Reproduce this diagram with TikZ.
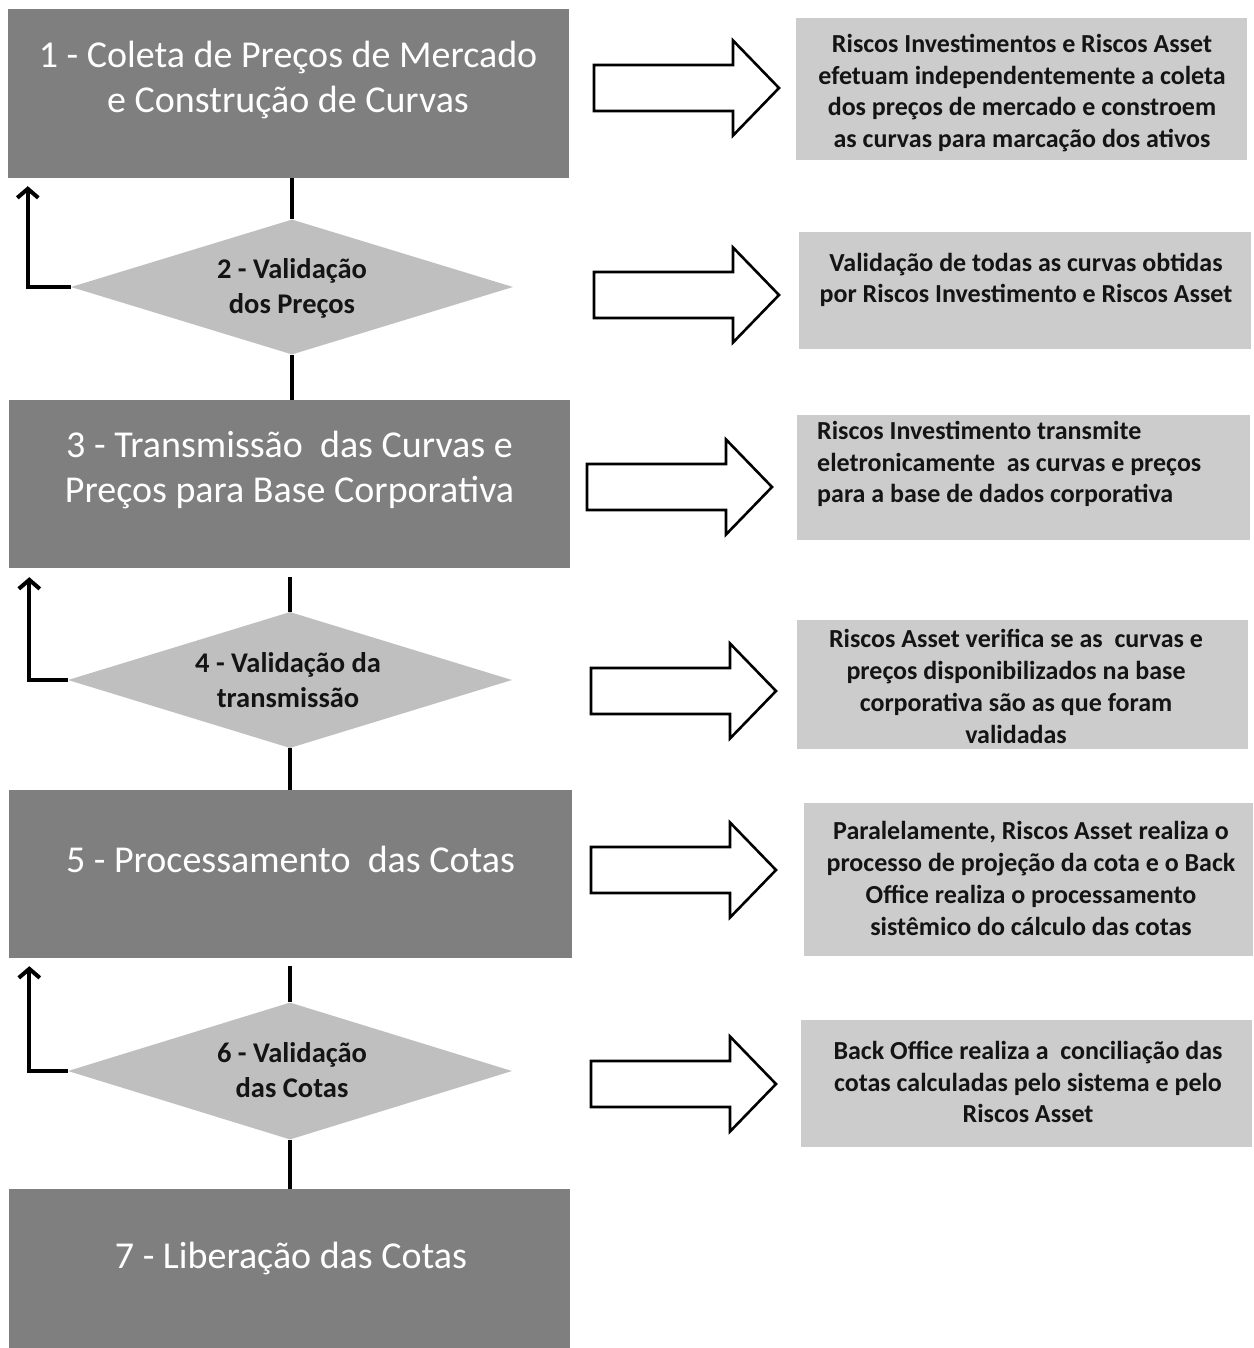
\documentclass[tikz,border=0pt]{standalone}
\usepackage{fontspec}
\setmainfont{Carlito}
\usetikzlibrary{shapes.geometric,arrows.meta}
\definecolor{boxgray}{HTML}{7F7F7F}
\definecolor{diagray}{HTML}{BFBFBF}
\definecolor{descgray}{HTML}{CCCCCC}
\definecolor{darktext}{HTML}{141414}
\tikzset{
  mainbox/.style={rectangle, fill=boxgray, inner sep=0, minimum width=561, minimum height=169},
  maintext/.style={text=white, align=center, font=\fontsize{38}{45}\selectfont, inner sep=0},
  decision/.style={diamond, fill=diagray, inner sep=0, minimum width=442, minimum height=135},
  dectext/.style={text=darktext, align=center, font=\bfseries\fontsize{28.5}{35}\selectfont, inner sep=0},
  descbox/.style={rectangle, fill=descgray, inner sep=0},
  desctext/.style={text=darktext, align=center, font=\bfseries\fontsize{26}{31.8}\selectfont, inner sep=0},
  conn/.style={draw=black, line width=4},
  feedback/.style={draw=black, line width=4, -{Straight Barb[length=9pt,width=21pt,line width=4pt]}},
  blockarrow/.pic={\draw[line width=2.6, fill=white] (0,-23) -- (139,-23) -- (139,-47.5) -- (185,0) -- (139,47.5) -- (139,23) -- (0,23) -- cycle;}
}
\begin{document}
\begin{tikzpicture}[x=1pt,y=-1pt]
\useasboundingbox[fill=white] (0,0) rectangle (1253,1348);

% main boxes
\node[mainbox, minimum height=169] (b1) at (288,93.5) {};
\node[maintext] (t1) at (288,80) {1 - Coleta de Preços de Mercado\\e Construção de Curvas};
\node[mainbox, minimum height=168] (b3) at (289.5,484) {};
\node[maintext] (t3) at (289.5,470) {3 - Transmissão\ \ das Curvas e\\Preços para Base Corporativa};
\node[mainbox, minimum height=168, minimum width=563] (b5) at (290.5,874) {};
\node[maintext] (t5) at (290.5,859) {5 - Processamento\ \ das Cotas};
\node[mainbox, minimum height=165] (b7) at (289.5,1271.5) {};
\node[maintext] (t7) at (291,1258) {7 - Liberação das Cotas};

% decisions
\node[decision] (d2) at (292,287) {};
\node[dectext] (t2) at (292,288) {2 - Validação\\dos Preços};
\node[decision, minimum width=444, minimum height=136] (d4) at (290,680) {};
\node[dectext] (t4) at (288,680) {4 - Validação da\\transmissão};
\node[decision, minimum width=444, minimum height=137] (d6) at (290,1071) {};
\node[dectext] (t6) at (292,1070) {6 - Validação\\das Cotas};

% vertical connectors
\draw[conn] (b1.south -| d2.north) -- (d2.north);
\draw[conn] (d2.south) -- (d2.south |- b3.north);
\draw[conn, shorten <=9pt] (b3.south -| d4.north) -- (d4.north);
\draw[conn] (d4.south) -- (d4.south |- b5.north);
\draw[conn, shorten <=8pt] (b5.south -| d6.north) -- (d6.north);
\draw[conn] (d6.south) -- (d6.south |- b7.north);

% feedback arrows
\draw[feedback] (d2.west) -| ([xshift=20.5pt,yshift=-8pt]b1.south west);
\draw[feedback] (d4.west) -| ([xshift=20.5pt,yshift=-9pt]b3.south west);
\draw[feedback] (d6.west) -| ([xshift=20.5pt,yshift=-8pt]b5.south west);

% block arrows
\pic at (594,88) {blockarrow};
\pic at (594,295) {blockarrow};
\pic at (587,487) {blockarrow};
\pic at (591,691) {blockarrow};
\pic at (591,870) {blockarrow};
\pic at (591,1084) {blockarrow};

% description boxes
\node[descbox, minimum width=451, minimum height=142] (e1) at (1021.5,89) {};
\node[desctext] (f1) at (1022,93) {Riscos Investimentos e Riscos Asset\\efetuam independentemente a coleta\\dos preços de mercado e constroem\\as curvas para marcação dos ativos};
\node[descbox, minimum width=452, minimum height=116] (e2) at (1025,290.5) {};
\node[desctext] (f2) at (1026,280) {Validação de todas as curvas obtidas\\por Riscos Investimento e Riscos Asset};
\node[descbox, minimum width=453, minimum height=125] (e3) at (1023.5,477.5) {};
\node[desctext, align=left, anchor=west] (f3) at (817,464) {Riscos Investimento transmite\\eletronicamente\ \ as curvas e preços\\para a base de dados corporativa};
\node[descbox, minimum width=451, minimum height=129] (e4) at (1022.5,684.5) {};
\node[desctext] (f4) at (1016,686.5) {Riscos Asset verifica se as\ \ curvas e\\preços disponibilizados na base\\corporativa são as que foram\\validadas};
\node[descbox, minimum width=449, minimum height=153] (e5) at (1028.5,879.5) {};
\node[desctext] (f5) at (1031,878.5) {Paralelamente, Riscos Asset realiza o\\processo de projeção da cota e o Back\\Office realiza o processamento\\sistêmico do cálculo das cotas};
\node[descbox, minimum width=451, minimum height=127] (e6) at (1026.5,1083.5) {};
\node[desctext] (f6) at (1028,1082) {Back Office realiza a\ \ conciliação das\\cotas calculadas pelo sistema e pelo\\Riscos Asset};
\end{tikzpicture}
\end{document}
